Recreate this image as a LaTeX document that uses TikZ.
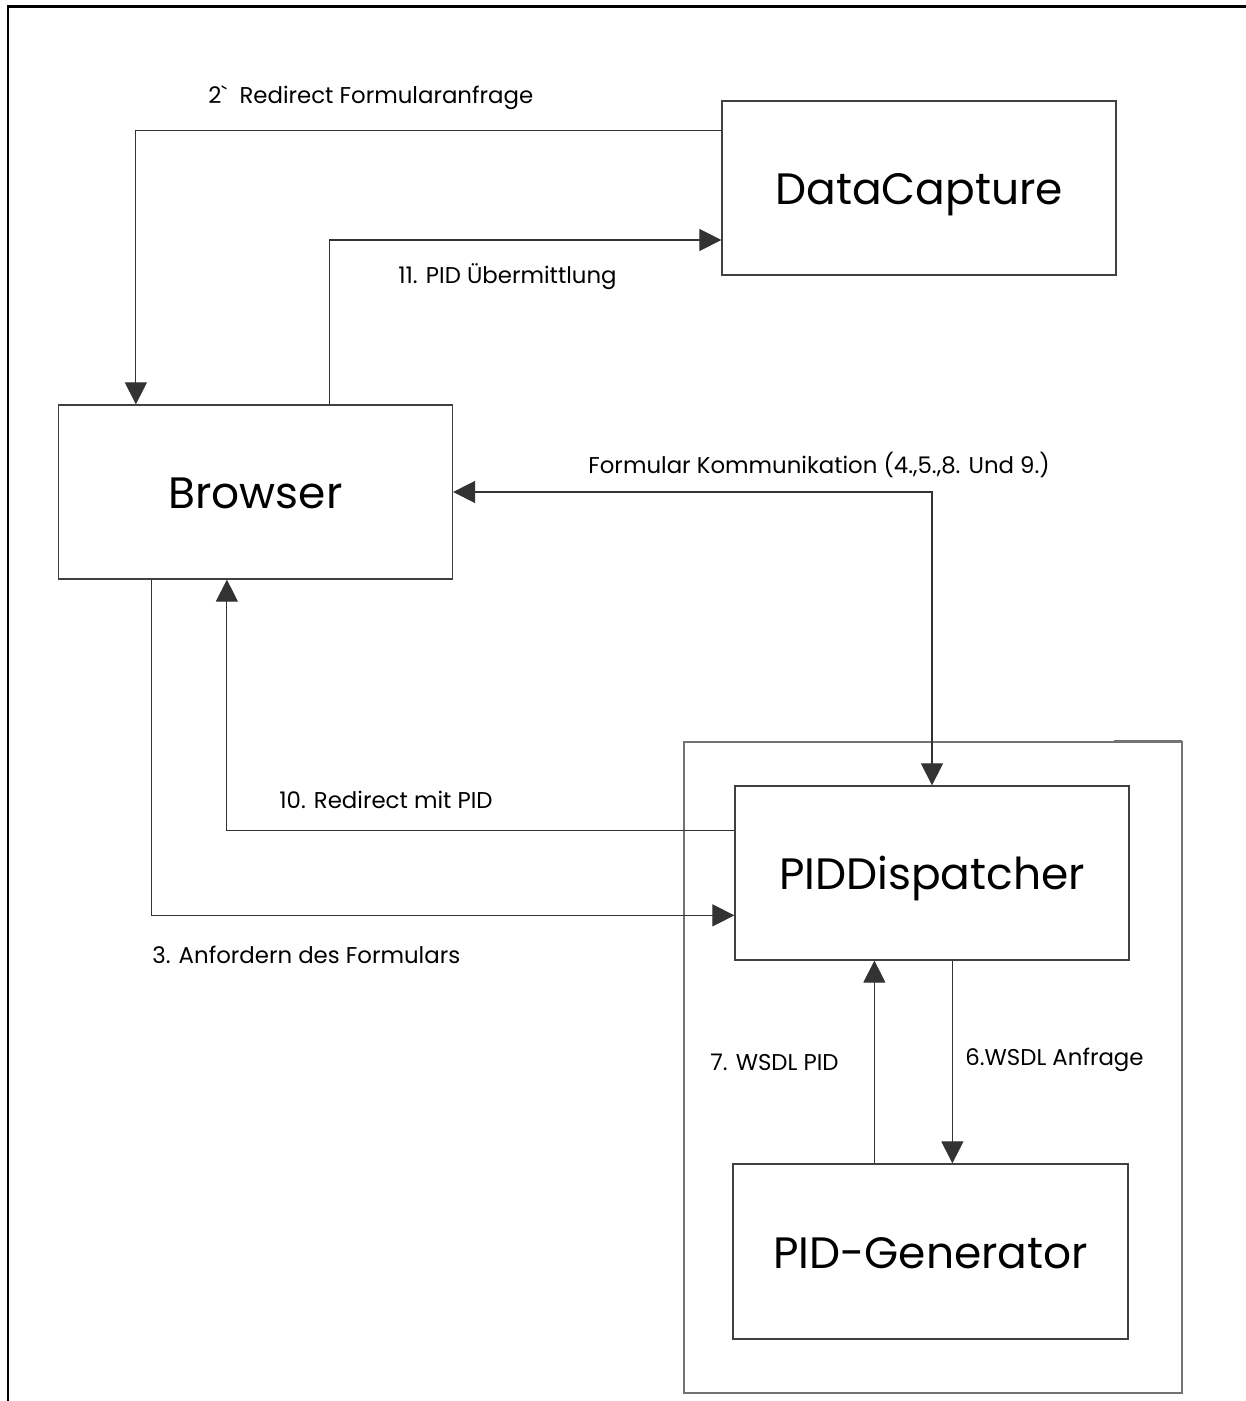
\documentclass[tikz,border=0pt]{standalone}
\usepackage{fontspec}
\setmainfont{Poppins}
\usetikzlibrary{arrows.meta}

\begin{document}
\begin{tikzpicture}
  \tikzset{block/.style = {shape=rectangle,draw=black!75,line width=0.7pt,minimum width=7.88cm,minimum height=3.48cm,inner sep=0pt,text height=0.88cm,text depth=0.2cm,font=\fontsize{25}{28}\selectfont}}
  \tikzset{flow/.style = {-{Triangle[length=0.44cm,width=0.44cm]},draw=black!80,line width=0.6pt}}
  \tikzset{txt/.style = {anchor=west,inner sep=0pt,font=\fontsize{13}{15}\selectfont}}

  \useasboundingbox (0,0) rectangle (24.92,28.02);
  \draw[line width=1.7pt] (0.16,0) -- (0.16,27.88) -- (24.92,27.88);

	\node[block] (dc) at (18.38,24.26) {DataCapture};
	\node[block] (br) at (5.11,18.18) {Browser};
	\node[shape=rectangle,draw=black!55,line width=0.7pt,minimum width=9.96cm,minimum height=13.02cm] (box) at (18.66,6.67) {};
	\node[block] (pd) at (18.64,10.56) {PIDDispatcher};
	\node[block,minimum width=7.9cm,minimum height=3.5cm] (pg) at (18.61,2.99) {PID-Generator};
	\draw[black!55,line width=1.6pt] ([xshift=-1.38cm]box.north east) -- ([xshift=-0.02cm]box.north east);

	\node[txt] (l2) at (4.16,26.06) {2\textasciigrave\ \ Redirect Formularanfrage};
	\node[txt] (l11) at (7.96,22.48) {11. PID Übermittlung};
	\node[txt] (lf) at (11.76,18.72) {Formular Kommunikation (4.,5.,8. Und 9.)};
	\node[txt] (l10) at (5.58,12.02) {10. Redirect mit PID};
	\node[txt] (l3) at (3.04,8.92) {3. Anfordern des Formulars};
	\node[txt] (l7) at (14.2,6.78) {7. WSDL PID};
	\node[txt] (l6) at (19.3,6.82) {6.WSDL Anfrage};

    \draw[flow] ([yshift=-0.6cm]dc.north west) -| ([xshift=1.56cm]br.north west);
    \draw[flow] ([xshift=5.44cm]br.north west) |- ([yshift=-1.04cm]dc.west);
    \draw[flow,{Triangle[length=0.44cm,width=0.44cm]}-{Triangle[length=0.44cm,width=0.44cm]}] (br.east) -| (pd.north);
    \draw[flow] ([yshift=-0.9cm]pd.north west) -| ([xshift=3.38cm]br.south west);
    \draw[flow] ([xshift=1.88cm]br.south west) |- ([yshift=-2.6cm]pd.north west);
    \draw[flow] ([xshift=4.36cm]pd.south west) -- ([xshift=4.36cm]pd.south west |- pg.north);
    \draw[flow] ([xshift=2.84cm]pg.north west) -- ([xshift=2.84cm]pg.north west |- pd.south);
\end{tikzpicture}
\end{document}
